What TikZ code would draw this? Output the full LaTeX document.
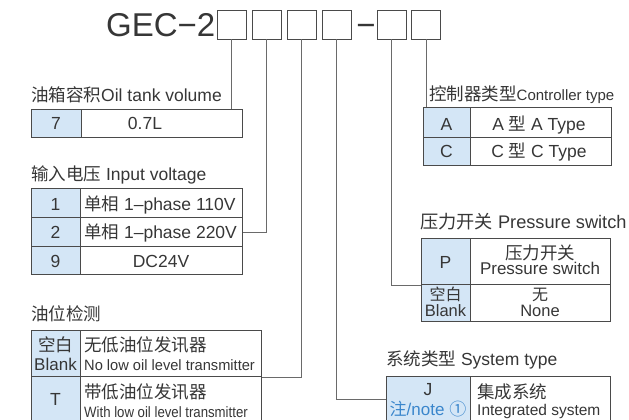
\documentclass[tikz,border=0pt]{standalone}
\usepackage{fontspec}
\usepackage{graphicx}
\setmainfont{Liberation Sans}
\newfontfamily\cjk{Noto Sans CJK SC}
\newcommand\zh[1]{{\cjk #1}}
\definecolor{txtc}{HTML}{363636}
\definecolor{keyc}{HTML}{D4E6F6}
\definecolor{linec}{HTML}{4A4A4A}
\definecolor{connc}{HTML}{6A6A6A}
\definecolor{notec}{HTML}{3A86CC}
\tikzset{
  cell/.style={draw=linec, line width=0.9pt, anchor=north west, inner sep=0, minimum width=#1},
  keycell/.style={cell=#1, fill=keyc},
  codebox/.style={draw=linec, line width=0.9pt, minimum width=29pt, minimum height=29pt, inner sep=0},
  conn/.style={draw=connc, line width=0.8pt},
  tx/.style={inner sep=0, text=txtc, anchor=base, font=\fontsize{17.5}{20}\selectfont},
  txl/.style={tx, anchor=base west},
  sm/.style={font=\fontsize{15}{18}\selectfont},
  ttl/.style={txl, font=\fontsize{17.5}{20}\selectfont},
}
\begin{document}
\begin{tikzpicture}[x=1pt,y=-1pt]
\useasboundingbox (0,0) rectangle (629,420);
\clip (0,0) rectangle (629,420);

% model code
\node[tx, anchor=base east, font=\fontsize{33}{33}\selectfont] (gec) at (215.5,37) {GEC−2};
\node[codebox] (b1) at (231.5,24.5) {};
\node[codebox] (b2) at (266.5,24.5) {};
\node[codebox] (b3) at (301.5,24.5) {};
\node[codebox] (b4) at (336.5,24.5) {};
\node[tx, font=\fontsize{33}{33}\selectfont] (dash) at (366,37) {−};
\node[codebox] (b5) at (391.5,24.5) {};
\node[codebox] (b6) at (426,24.5) {};

% oil tank volume
\node[ttl] (t1) at (31,101) {\zh{油箱容积}Oil tank volume};
\node[keycell=50pt, minimum height=28pt] (tk) at (31,109) {};
\node[cell=161pt, minimum height=28pt] (tv) at (81,109) {};
\node[tx] (tk7) at (56,129) {7};
\node[tx] (tv7) at (145,129) {0.7L};

% input voltage
\node[ttl] (t2) at (31,180) {\zh{输入电压} Input voltage};
\node[keycell=49pt, minimum height=29pt] (vk1) at (31,188) {};
\node[cell=162pt, minimum height=29pt] (v1) at (80,188) {};
\node[keycell=49pt, minimum height=29pt] (vk2) at (31,217) {};
\node[cell=162pt, minimum height=29pt] (v2) at (80,217) {};
\node[keycell=49pt, minimum height=28pt] (vk9) at (31,246) {};
\node[cell=162pt, minimum height=28pt] (v9) at (80,246) {};
\node[tx] at (55.5,210) {1};
\node[tx] at (55.5,238) {2};
\node[tx] at (55.5,267) {9};
\node[txl] at (84,210) {\zh{单相} 1–phase 110V};
\node[txl] at (84,238) {\zh{单相} 1–phase 220V};
\node[tx] at (161,267) {DC24V};

% oil level detection
\node[ttl] (t3) at (31,320) {\zh{油位检测}};
\node[keycell=49pt, minimum height=46pt] (ok1) at (31,330) {};
\node[cell=181pt, minimum height=46pt] (o1) at (80,330) {};
\node[keycell=49pt, minimum height=50pt] (ok2) at (31,376) {};
\node[cell=181pt, minimum height=50pt] (o2) at (80,376) {};
\node[tx] at (55.5,351.5) {\zh{空白}};
\node[tx, font=\fontsize{17}{20}\selectfont] at (55.5,370) {Blank};
\node[txl] at (84,351.5) {\zh{无低油位发讯器}};
\node[txl, sm] at (84,370) {\scalebox{0.975}[1]{No low oil level transmitter}};
\node[tx] at (55.5,405) {T};
\node[txl] at (84,398) {\zh{带低油位发讯器}};
\node[txl, sm] at (84,417) {\scalebox{0.88}[1]{With low oil level transmitter}};

% controller type
\node[ttl] (t4) at (429,100) {\zh{控制器类型}{\fontsize{15}{18}\selectfont Controller type}};
\node[keycell=47pt, minimum height=30pt] (ck1) at (423,107) {};
\node[cell=141pt, minimum height=30pt] (c1) at (470,107) {};
\node[keycell=47pt, minimum height=28pt] (ck2) at (423,137) {};
\node[cell=141pt, minimum height=28pt] (c2) at (470,137) {};
\node[tx] at (446.5,130) {A};
\node[tx] at (446.5,157) {C};
\node[tx] at (539,130) {A \zh{型} A Type};
\node[tx] at (539,157) {C \zh{型} C Type};

% pressure switch
\node[ttl, font=\fontsize{18.2}{20}\selectfont] (t5) at (420,228) {\zh{压力开关} Pressure switch};
\node[keycell=49pt, minimum height=46pt] (pk1) at (421,238) {};
\node[cell=140pt, minimum height=46pt] (p1) at (470,238) {};
\node[keycell=49pt, minimum height=37pt] (pk2) at (421,284) {};
\node[cell=140pt, minimum height=37pt] (p2) at (470,284) {};
\node[tx] at (445.5,268) {P};
\node[tx] at (540,259.5) {\zh{压力开关}};
\node[tx, font=\fontsize{17}{20}\selectfont] at (540,274.5) {Pressure switch};
\node[tx, font=\fontsize{16}{18}\selectfont] at (445.5,300) {\zh{空白}};
\node[tx, font=\fontsize{16.5}{18}\selectfont] at (445.5,316) {Blank};
\node[tx, font=\fontsize{16}{18}\selectfont] at (540,300) {\zh{无}};
\node[tx, font=\fontsize{16.5}{18}\selectfont] at (540,316) {None};

% system type
\node[ttl] (t6) at (386,365) {\zh{系统类型} System type};
\node[keycell=84pt, minimum height=46pt] (sk) at (386,376) {};
\node[cell=140pt, minimum height=46pt] (s1) at (470,376) {};
\node[tx] at (428,395) {J};
\node[tx, text=notec, font=\fontsize{17}{20}\selectfont] at (428,415) {\zh{注}/note \zh{①}};
\node[txl] at (477,398) {\zh{集成系统}};
\node[txl, font=\fontsize{15.5}{18}\selectfont] at (477,415) {Integrated system};

% connectors
\draw[conn] (b1.south) -- (b1.south |- tv.north);
\draw[conn] (b2.south) |- (v2.east);
\draw[conn] (b3.south) |- (o1.south east);
\draw[conn] (b4.south) |- (sk.west);
\draw[conn] (b5.south) |- (pk1.south west);
\draw[conn] (b6.south) -- (b6.south |- ck1.north);
\end{tikzpicture}
\end{document}
